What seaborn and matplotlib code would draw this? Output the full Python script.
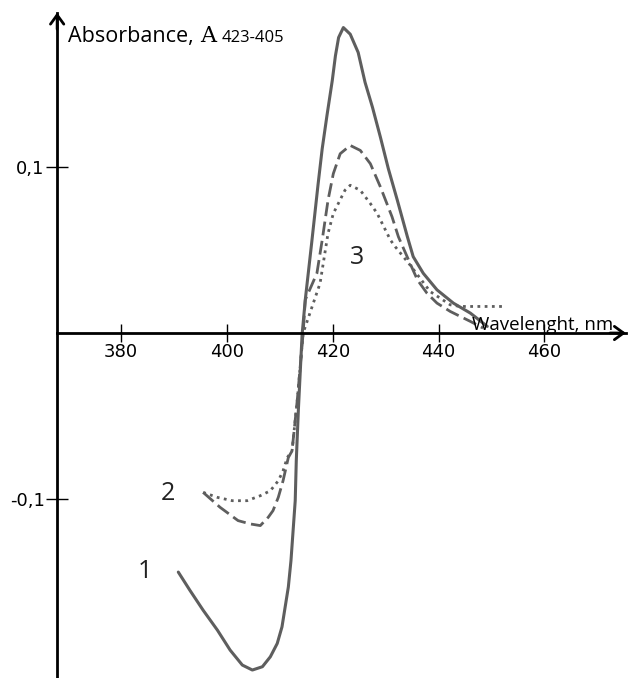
import matplotlib
matplotlib.use("Agg")
import matplotlib.pyplot as plt
import seaborn as sns

# Difference absorption spectra (A423 - A405) versus wavelength, nm
wl_1 = [390.8, 393.0, 395.5, 398.2, 400.6, 402.9, 404.8, 406.7, 408.2, 409.5,
        410.4, 411.0, 411.6, 412.1, 412.9, 413.1, 413.5, 414.2, 414.8, 416.0,
        417.2, 418.0, 418.9, 419.9, 420.5, 421.1, 422.0, 423.3, 424.8, 426.1,
        427.5, 429.0, 430.5, 432.2, 434.1, 435.2, 437.1, 439.7, 442.8, 446.0, 449.2]
abs_1 = [-0.144, -0.155, -0.167, -0.179, -0.191, -0.200, -0.203, -0.201, -0.195, -0.187,
         -0.177, -0.165, -0.153, -0.137, -0.101, -0.077, -0.046, -0.001, 0.020, 0.054,
         0.089, 0.111, 0.131, 0.152, 0.167, 0.178, 0.184, 0.180, 0.169, 0.151,
         0.136, 0.118, 0.099, 0.080, 0.058, 0.046, 0.036, 0.026, 0.018, 0.012, 0.004]

wl_2 = [395.5, 398.7, 402.1, 404.4, 406.3, 407.8, 408.7, 409.7, 410.6, 411.6,
        412.3, 413.3, 414.4, 414.8, 417.0, 418.0, 419.1, 420.1, 421.4, 423.3,
        425.2, 427.1, 429.0, 431.2, 432.4, 434.6, 436.0, 437.8, 439.7, 442.2, 446.0, 448.4]
abs_2 = [-0.096, -0.105, -0.113, -0.115, -0.116, -0.111, -0.107, -0.099, -0.089, -0.075,
         -0.071, -0.040, 0.000, 0.020, 0.036, 0.056, 0.080, 0.096, 0.108, 0.113,
         0.110, 0.102, 0.088, 0.070, 0.058, 0.042, 0.032, 0.024, 0.018, 0.013, 0.007, 0.003]

wl_3 = [395.5, 398.2, 401.0, 403.8, 406.3, 408.2, 409.7, 410.6, 411.4, 412.3,
        413.3, 414.4, 417.6, 419.1, 420.1, 422.3, 423.3, 425.2, 427.1, 428.4,
        430.9, 431.8, 434.6, 438.4, 442.2, 444.1, 448.0, 452.0]
abs_3 = [-0.096, -0.099, -0.101, -0.101, -0.098, -0.095, -0.089, -0.083, -0.075, -0.071,
         -0.040, 0.000, 0.030, 0.060, 0.072, 0.086, 0.089, 0.086, 0.078, 0.072,
         0.056, 0.052, 0.041, 0.025, 0.017, 0.016, 0.016, 0.016]

x_ticks = [380, 400, 420, 440, 460]
y_ticks = [-0.1, 0.1]
y_tick_labels = ["-0,1", "0,1"]
curve_labels = ["1", "2", "3"]

sns.set_style("white")
plt.rcParams["font.family"] = ["DejaVu Sans"]
plt.rcParams["text.color"] = "black"
plt.rcParams["lines.solid_joinstyle"] = "round"
plt.rcParams["lines.dash_joinstyle"] = "round"

W, H = 628, 678
fig = plt.figure(figsize=(W / 100, H / 100), dpi=100)
ax = fig.add_axes([0, 0, 1, 1])
ax.set_xlim(357.1, 475.8)
ax.set_ylim(-0.2078, 0.2006)

grey = "#5e5e5e"
sns.lineplot(x=wl_1, y=abs_1, ax=ax, color=grey, linewidth=2.2,
             sort=False, estimator=None)
sns.lineplot(x=wl_2, y=abs_2, ax=ax, color=grey, linewidth=2.0,
             linestyle=(0, (5, 2)), sort=False, estimator=None)
sns.lineplot(x=wl_3, y=abs_3, ax=ax, color=grey, linewidth=2.0,
             linestyle=(0, (1, 1.6)), sort=False, estimator=None)

# axes crossing at (367.9, 0)
y_axis_x = 367.9
x_end, y_end = 475.4, 0.193
for side in ("top", "right"):
    ax.spines[side].set_visible(False)
ax.spines["left"].set_position(("data", y_axis_x))
ax.spines["left"].set_bounds(-0.2078, y_end)
ax.spines["bottom"].set_position(("data", 0))
ax.spines["bottom"].set_bounds(y_axis_x, x_end)
for s in ("left", "bottom"):
    ax.spines[s].set_linewidth(2.0)
    ax.spines[s].set_color("black")

arrow = dict(arrowstyle="->,head_length=0.55,head_width=0.4", color="black",
             lw=2.0, shrinkA=0, shrinkB=0, mutation_scale=12)
ax.annotate("", xy=(x_end, 0), xytext=(x_end - 3, 0), arrowprops=arrow)
ax.annotate("", xy=(y_axis_x, y_end), xytext=(y_axis_x, y_end - 0.01), arrowprops=arrow)

ax.set_xticks(x_ticks)
ax.set_xticklabels([str(t) for t in x_ticks])
ax.set_yticks(y_ticks)
ax.set_yticklabels(y_tick_labels)
ax.tick_params(axis="x", direction="inout", length=13, width=1.0, pad=1,
               labelsize=13, colors="black", bottom=True)
ax.tick_params(axis="y", direction="inout", length=16, width=1.0, pad=1,
               labelsize=13, colors="black", left=True)
ax.grid(False)

def px(x, y):
    return x / W, 1 - y / H

# axis titles
fig.text(*px(68, 42), "Absorbance, ", fontsize=15.5, family="Open Sans",
         va="baseline", ha="left", color="black")
fig.text(*px(200, 42), "A", fontsize=16, family="DejaVu Serif",
         va="baseline", ha="left", color="black")
fig.text(*px(222, 42), "423-405", fontsize=12, family="Open Sans",
         va="baseline", ha="left", color="black")
fig.text(*px(472, 330), "Wavelenght, nm", fontsize=13.5, family="Open Sans",
         va="baseline", ha="left", color="black")

# curve numbers
for lab, (cx, cy) in zip(curve_labels, [(145, 571), (168, 493), (357, 257)]):
    fig.text(*px(cx, cy), lab, fontsize=18, family="Open Sans",
             va="center", ha="center", color="#222222")

fig.savefig("out.png", dpi=100)
